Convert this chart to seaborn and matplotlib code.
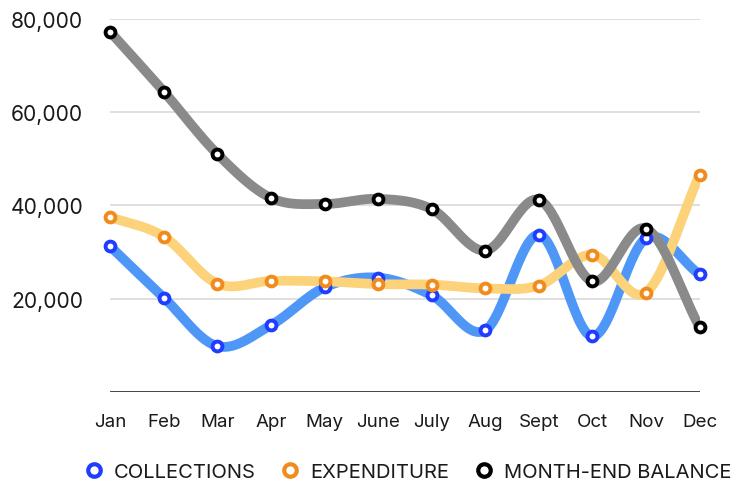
import numpy as np
import pandas as pd
import matplotlib
matplotlib.use("Agg")
import matplotlib.pyplot as plt
import seaborn as sns
from matplotlib.lines import Line2D
from matplotlib.ticker import FuncFormatter

months = ["Jan", "Feb", "Mar", "Apr", "May", "June", "July", "Aug", "Sept", "Oct", "Nov", "Dec"]
collections = [31200, 20200, 9800, 14300, 22400, 24500, 20700, 13200, 33700, 11900, 32900, 25200]
expenditure = [37500, 33300, 23200, 23800, 23700, 23100, 23000, 22200, 22800, 29400, 21300, 46500]
balance = [77200, 64400, 51000, 41600, 40300, 41400, 39200, 30300, 41200, 23700, 35000, 13900]

series = [
    ("COLLECTIONS", collections, "#4f97f7", "#1f3cff"),
    ("EXPENDITURE", expenditure, "#fcd27a", "#f08c1e"),
    ("MONTH-END BALANCE", balance, "#8a8a8a", "#000000"),
]


def catmull_rom(y, steps=30):
    # smooth path through the points, only used to draw the line
    y = np.asarray(y, dtype=float)
    p = np.concatenate([[2 * y[0] - y[1]], y, [2 * y[-1] - y[-2]]])
    xs, ys = [], []
    t = np.linspace(0, 1, steps, endpoint=False)
    for i in range(1, len(p) - 2):
        p0, p1, p2, p3 = p[i - 1], p[i], p[i + 1], p[i + 2]
        m1 = (p2 - p0) / 2
        m2 = (p3 - p1) / 2
        h00 = 2 * t**3 - 3 * t**2 + 1
        h10 = t**3 - 2 * t**2 + t
        h01 = -2 * t**3 + 3 * t**2
        h11 = t**3 - t**2
        ys.append(h00 * p1 + h10 * m1 + h01 * p2 + h11 * m2)
        xs.append(i - 1 + t)
    xs.append([len(y) - 1])
    ys.append([y[-1]])
    return np.concatenate(xs), np.concatenate(ys)


sns.set_style("white")
plt.rcParams["font.family"] = ["Inter", "DejaVu Sans"]

fig, ax = plt.subplots(figsize=(7.45, 4.85), dpi=100)
fig.subplots_adjust(left=0.148, right=0.939, top=0.959, bottom=0.19)

for y in [20000, 40000, 60000, 80000]:
    ax.axhline(y, color="#d9d9d9", lw=1.2, zorder=0)
ax.axhline(0, color="#333333", lw=2, zorder=1)

x_idx = np.arange(len(months))
for name, vals, line_c, edge_c in series:
    sx, sy = catmull_rom(vals)
    sns.lineplot(x=sx, y=sy, ax=ax, color=line_c, lw=7, solid_capstyle="round",
                 estimator=None, sort=False, zorder=2)
for name, vals, line_c, edge_c in series:
    pts = pd.DataFrame({"x": x_idx, "y": vals})
    sns.scatterplot(data=pts, x="x", y="y", ax=ax, s=50, color="white",
                    edgecolor=edge_c, linewidth=2.8, zorder=4, clip_on=False)

ax.set_xlim(0, 11)
ax.set_ylim(0, 80000)
ax.set_xticks(x_idx)
ax.set_xticklabels(months, fontsize=13.5, color="#1a1a1a")
ax.set_yticks([20000, 40000, 60000, 80000])
ax.yaxis.set_major_formatter(FuncFormatter(lambda v, p: f"{int(v):,}"))
ax.tick_params(axis="y", labelsize=15.2, colors="#1a1a1a", length=0, pad=19.5)
ax.tick_params(axis="x", length=0, pad=15)
ax.set_xlabel("")
ax.set_ylabel("")
sns.despine(ax=ax, left=True, bottom=True)

handles = [
    Line2D([], [], marker="o", linestyle="none", markersize=9, markerfacecolor="white",
           markeredgecolor=edge_c, markeredgewidth=3, label=name)
    for name, vals, line_c, edge_c in series
]
fig.legend(handles=handles, loc="center", bbox_to_anchor=(0.547, 0.024), ncol=3,
           frameon=False, fontsize=14.5, handlelength=1.0, handletextpad=0.5,
           columnspacing=1.2, labelcolor="#1a1a1a")

fig.savefig("out.png", dpi=100)
